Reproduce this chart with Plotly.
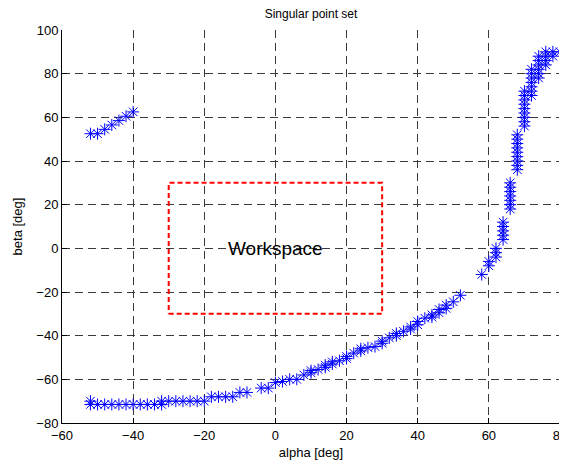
import plotly.graph_objects as go

# ---- data ----
# upper-left singular branch
tl_alpha = [-52, -50, -48, -46, -44, -42, -40]
tl_beta = [52.5, 52.5, 54.5, 56.5, 58.5, 60.5, 62.5]

# lower singular branch
lo_alpha = [-52, -52, -50, -48, -46, -44, -42, -40, -38, -36, -34, -32, -32,
            -30, -28, -26, -24, -22, -20, -18, -16, -14, -12, -10, -8, -4, -2,
            0, 2, 4, 6, 8, 10, 10, 12, 14, 14, 16, 16, 18, 20, 20, 22, 24, 24,
            26, 28, 30, 30, 32, 34, 34, 36, 38, 38, 40, 40, 42, 44, 44, 46, 46,
            48, 48, 50, 52]
lo_beta = [-70, -71.5, -71.5, -71.5, -71.5, -71.5, -71.5, -71.5, -71.5, -71.5, -71.5, -70, -71.5,
           -70, -70, -70, -70, -70, -70, -68, -68, -68, -68, -66, -66, -64, -64,
           -61.5, -61, -60, -60, -58, -57, -56, -55.5, -54.5, -53.5, -53, -52, -51.5, -50.5, -49.5, -48, -47, -46,
           -45.5, -45, -43.5, -42.5, -41, -40, -39, -38, -37, -36, -35, -33.5, -32, -31.5, -30.5, -29.5, -28,
           -27.5, -26, -24.5, -21.5]

# right singular branch
rt_alpha = [58, 60, 60, 62, 62, 62,
            64, 64, 64, 64, 64,
            66, 66, 66, 66, 66, 66, 66,
            68, 68, 68, 68, 68, 68, 68, 68, 68,
            70, 70, 70, 70, 70, 70, 70, 70, 70,
            72, 72, 72, 72, 72, 72, 72,
            74, 74, 74, 74, 74, 74,
            76, 76, 76, 76,
            78, 78, 80]
rt_beta = [-12, -6, -8, 0, -2, -4,
           4, 6, 8, 10, 12,
           18, 20, 22, 24, 26, 28, 30,
           36, 38, 40, 42, 44, 46, 48, 50, 52,
           56, 58, 60, 62, 64, 66, 68, 70, 72,
           70, 72, 74, 76, 78, 80, 82,
           78, 80, 82, 84, 86, 88,
           84, 86, 88, 90,
           88, 90, 90]

# workspace box
ws_alpha = [-30, 30]
ws_beta = [-30, 30]
ws_label = "Workspace"

x_ticks = [-60, -40, -20, 0, 20, 40, 60, 80]
y_ticks = [-80, -60, -40, -20, 0, 20, 40, 60, 80, 100]

title_text = "Singular point set"
x_title = "alpha [deg]"
y_title = "beta [deg]"

# ---- figure ----
font_family = "Liberation Sans, Arial, sans-serif"
alpha_all = tl_alpha + lo_alpha + rt_alpha
beta_all = tl_beta + lo_beta + rt_beta

fig = go.Figure()
fig.add_trace(go.Scatter(
    x=alpha_all, y=beta_all, mode="markers",
    marker=dict(symbol="asterisk-open", size=10, color="#0000ff",
                line=dict(color="#0000ff", width=1)),
    showlegend=False, hoverinfo="skip", cliponaxis=False))

box_x = [ws_alpha[0], ws_alpha[1], ws_alpha[1], ws_alpha[0], ws_alpha[0]]
box_y = [ws_beta[0], ws_beta[0], ws_beta[1], ws_beta[1], ws_beta[0]]
fig.add_trace(go.Scatter(
    x=box_x, y=box_y, mode="lines",
    line=dict(color="#ff0000", width=2, dash="5px,3px"),
    showlegend=False, hoverinfo="skip"))

fig.add_annotation(x=(ws_alpha[0] + ws_alpha[1]) / 2, y=(ws_beta[0] + ws_beta[1]) / 2,
                   text=ws_label, showarrow=False,
                   font=dict(family=font_family, size=19, color="black"))

axis_common = dict(
    showgrid=True, gridcolor="#3a3a3a", gridwidth=1, griddash="8px,5px",
    zeroline=False, showline=True, linecolor="black", linewidth=1,
    ticks="inside", ticklen=5, tickcolor="black", mirror=False,
    ticklabeloverflow="allow", automargin=False,
    tickfont=dict(family=font_family, size=13, color="black"),
)

# page body has an 8px margin, so the figure is 8px smaller
fig.update_layout(
    width=559, height=458,
    margin=dict(l=54, r=7, t=22, b=43),
    paper_bgcolor="white", plot_bgcolor="white",
    title=dict(text=title_text, x=(54 + 249) / 559, xanchor="center", y=1 - 6 / 458,
               yref="container", yanchor="middle",
               font=dict(family=font_family, size=12, color="black")),
    xaxis=dict(range=[-60, 80], tickvals=x_ticks,
               title=dict(text=x_title, standoff=6,
                          font=dict(family=font_family, size=13, color="black")),
               **axis_common),
    yaxis=dict(range=[-80, 100], tickvals=y_ticks,
               title=dict(text=y_title, standoff=10,
                          font=dict(family=font_family, size=13, color="black")),
               **axis_common),
)

fig.write_html("out.html")
